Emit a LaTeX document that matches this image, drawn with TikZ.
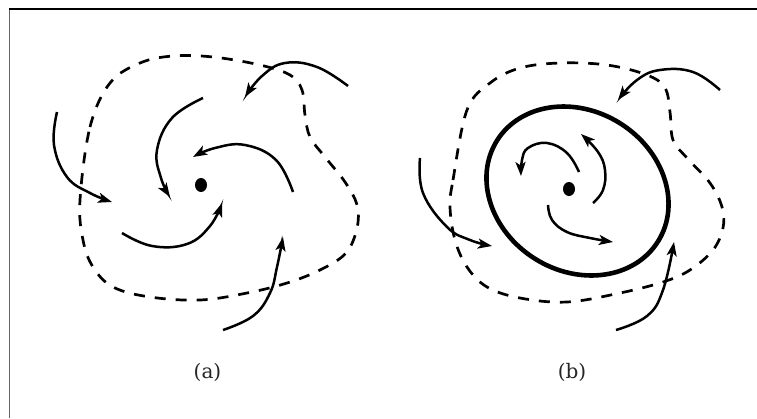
\documentclass[tikz,border=0pt]{standalone}
\usepackage{fontspec}
\newfontfamily\labfont{DejaVu Serif}
\usetikzlibrary{arrows.meta}
\begin{document}
\begin{tikzpicture}[x=1pt,y=-1pt,
  flow/.style={line width=2.5pt,-{Stealth[length=14pt,width=10pt,inset=3.5pt]}},
  bound/.style={line width=2.7pt,dash pattern=on 11pt off 10pt},
  wall/.style={line width=4.6pt},
  frame/.style={line width=1.4pt},
  lab/.style={font=\labfont\fontsize{20}{24}\selectfont,text=black!85}]
\useasboundingbox (0,0) rectangle (757,418);
% frame
\draw[frame,black!60] (9.5,418) -- (9.5,9);
\draw[frame] (9,9) -- (757,9);

% ---------- panel (a) ----------
\draw[bound] plot[smooth cycle,tension=0.6] coordinates {
 (80,200) (90,127) (110,83) (140,63) (173,56) (213,57) (260,65) (290,75)
 (302,90) (305,115) (310,137) (325,157) (345,182) (357,205) (357,228)
 (346,253) (320,270) (287,283) (247,293) (200,300) (150,297) (113,287)
 (93,267) (83,240)};
\fill (201,185) ellipse [x radius=6, y radius=7];
\draw[flow] plot[smooth,tension=0.7] coordinates {(57,112) (54,145) (67,177) (90,193) (112,202)};
\draw[flow] plot[smooth,tension=0.7] coordinates {(203,98) (172,118) (157,150) (161,178) (170,197)};
\draw[flow] plot[smooth,tension=0.7] coordinates {(293,192) (276,160) (245,145) (215,148) (193,157)};
\draw[flow] plot[smooth,tension=0.7] coordinates {(348,86) (317,67) (285,63) (262,76) (245,97)};
\draw[flow] plot[smooth,tension=0.7] coordinates {(122,233) (152,246) (187,244) (210,226) (222,203)};
\draw[flow] plot[smooth,tension=0.7] coordinates {(223,330) (253,316) (270,293) (277,267) (283,237)};
\node[lab] (la) at (207.5,372) {(a)};

% ---------- panel (b) ----------
\draw[bound] plot[smooth cycle,tension=0.6] coordinates {
 (450,207) (453,180) (467,110) (490,83) (520,68) (560,63) (607,65) (647,75)
 (665,88) (670,112) (673,140) (687,158) (710,183) (722,207) (723,228)
 (713,250) (690,270) (663,282) (620,293) (567,302) (520,298) (487,287)
 (467,267) (455,240)};
\draw[wall,rotate around={-32:(577.5,191)}] (577.5,191) ellipse [x radius=95, y radius=80];
\fill (569,189) ellipse [x radius=6, y radius=7];
\draw[flow] plot[smooth,tension=0.7] coordinates {(579,172) (567,153) (547,143) (528,148) (522,160) (521,176)};
\draw[flow] plot[smooth,tension=0.7] coordinates {(593,203) (603,190) (605,170) (598,152) (581,134)};
\draw[flow] plot[smooth,tension=0.7] coordinates {(548,205) (552,220) (567,232) (590,238) (613,242)};
\draw[flow] plot[smooth,tension=0.7] coordinates {(420,158) (423,193) (447,227) (470,240) (492,246)};
\draw[flow] plot[smooth,tension=0.7] coordinates {(720,90) (693,72) (660,70) (637,80) (618,100)};
\draw[flow] plot[smooth,tension=0.7] coordinates {(616,330) (647,316) (663,290) (674,242)};
\node[lab] (lb) at (572,372) {(b)};
\end{tikzpicture}
\end{document}
